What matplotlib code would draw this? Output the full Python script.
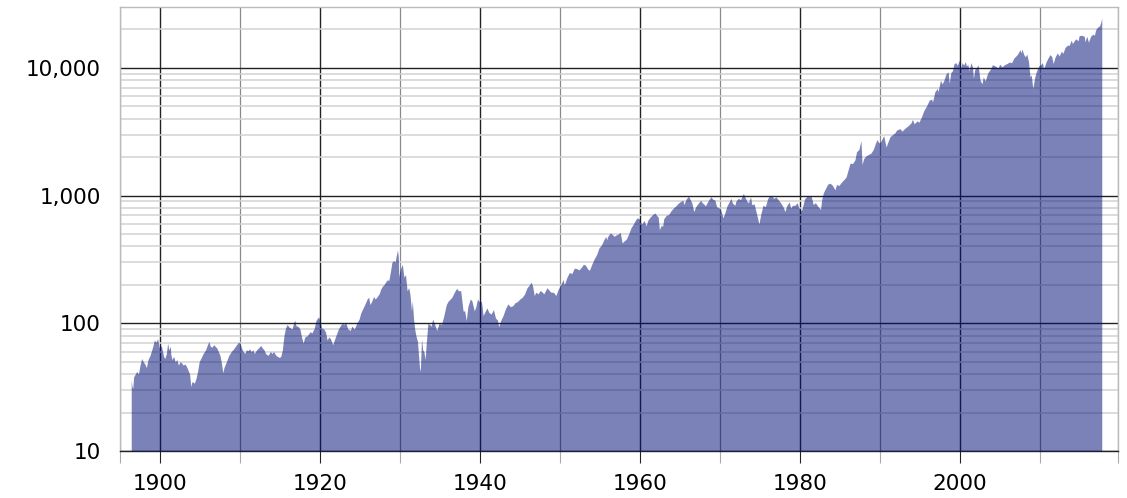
import matplotlib
matplotlib.use("Agg")
import matplotlib.pyplot as plt
from matplotlib.ticker import FixedLocator, FuncFormatter, LogLocator, NullFormatter

# Dow Jones Industrial Average (approximate)
years = [
    1896.40, 1896.50, 1896.60, 1896.70, 1896.90, 1897.10, 1897.30, 1897.50, 1897.70, 1897.90,
    1898.10, 1898.30, 1898.50, 1898.75, 1898.90, 1899.10, 1899.30, 1899.50, 1899.70, 1899.90,
    1900.00, 1900.20, 1900.45, 1900.60, 1900.80, 1900.95, 1901.10, 1901.30, 1901.35, 1901.50,
    1901.70, 1901.90, 1902.10, 1902.30, 1902.50, 1902.70, 1902.90, 1903.10, 1903.30, 1903.50,
    1903.70, 1903.85, 1904.00, 1904.30, 1904.50, 1904.70, 1904.90, 1905.10, 1905.40, 1905.70,
    1905.90, 1906.10, 1906.30, 1906.50, 1906.70, 1906.90, 1907.10, 1907.30, 1907.50, 1907.70,
    1907.85, 1908.00, 1908.30, 1908.60, 1908.90, 1909.20, 1909.50, 1909.80, 1910.00, 1910.20,
    1910.40, 1910.60, 1910.80, 1911.00, 1911.20, 1911.40, 1911.60, 1911.80, 1912.00, 1912.30,
    1912.60, 1912.80, 1913.00, 1913.20, 1913.50, 1913.80, 1914.00, 1914.20, 1914.50, 1914.90,
    1915.10, 1915.30, 1915.50, 1915.70, 1915.90, 1916.10, 1916.30, 1916.50, 1916.70, 1916.85,
    1917.00, 1917.30, 1917.50, 1917.70, 1917.90, 1918.10, 1918.40, 1918.60, 1918.80, 1919.00,
    1919.30, 1919.50, 1919.70, 1919.85, 1920.00, 1920.20, 1920.50, 1920.70, 1920.90, 1921.10,
    1921.30, 1921.60, 1921.80, 1922.00, 1922.30, 1922.60, 1922.80, 1923.00, 1923.20, 1923.50,
    1923.80, 1924.00, 1924.30, 1924.60, 1924.90, 1925.10, 1925.30, 1925.60, 1925.90, 1926.10,
    1926.25, 1926.50, 1926.70, 1926.90, 1927.10, 1927.40, 1927.60, 1927.80, 1928.00, 1928.20,
    1928.45, 1928.60, 1928.80, 1929.00, 1929.20, 1929.40, 1929.55, 1929.70, 1929.80, 1929.85,
    1929.95, 1930.10, 1930.30, 1930.50, 1930.70, 1930.90, 1931.10, 1931.25, 1931.45, 1931.55,
    1931.70, 1931.85, 1932.00, 1932.20, 1932.45, 1932.55, 1932.70, 1932.85, 1933.00, 1933.15,
    1933.30, 1933.50, 1933.70, 1933.90, 1934.10, 1934.40, 1934.60, 1934.90, 1935.20, 1935.50,
    1935.80, 1936.00, 1936.30, 1936.50, 1936.80, 1937.10, 1937.30, 1937.60, 1937.75, 1937.90,
    1938.10, 1938.30, 1938.50, 1938.80, 1939.00, 1939.30, 1939.50, 1939.70, 1939.90, 1940.20,
    1940.40, 1940.60, 1940.90, 1941.10, 1941.40, 1941.70, 1941.95, 1942.20, 1942.35, 1942.60,
    1942.90, 1943.20, 1943.50, 1943.80, 1944.10, 1944.40, 1944.70, 1945.00, 1945.30, 1945.60,
    1945.90, 1946.20, 1946.40, 1946.60, 1946.80, 1947.00, 1947.30, 1947.50, 1947.70, 1948.00,
    1948.40, 1948.70, 1948.90, 1949.20, 1949.50, 1949.80, 1950.10, 1950.40, 1950.55, 1950.90,
    1951.20, 1951.50, 1951.80, 1952.10, 1952.40, 1952.70, 1952.95, 1953.20, 1953.50, 1953.70,
    1954.00, 1954.30, 1954.60, 1954.90, 1955.20, 1955.50, 1955.75, 1955.85, 1956.00, 1956.30,
    1956.50, 1956.80, 1957.00, 1957.30, 1957.55, 1957.80, 1958.00, 1958.30, 1958.60, 1958.90,
    1959.20, 1959.50, 1959.70, 1959.90, 1960.10, 1960.30, 1960.50, 1960.80, 1961.00, 1961.30,
    1961.60, 1961.90, 1962.10, 1962.30, 1962.45, 1962.70, 1962.85, 1963.00, 1963.30, 1963.60,
    1963.90, 1964.20, 1964.50, 1964.80, 1965.10, 1965.40, 1965.50, 1965.80, 1966.10, 1966.30,
    1966.50, 1966.75, 1967.00, 1967.30, 1967.60, 1967.80, 1968.00, 1968.20, 1968.50, 1968.90,
    1969.10, 1969.40, 1969.60, 1969.90, 1970.10, 1970.40, 1970.60, 1970.90, 1971.20, 1971.40,
    1971.60, 1971.90, 1972.00, 1972.30, 1972.60, 1972.95, 1973.10, 1973.40, 1973.60, 1973.85,
    1974.00, 1974.30, 1974.60, 1974.90, 1975.10, 1975.40, 1975.70, 1976.00, 1976.25, 1976.50,
    1976.80, 1977.00, 1977.30, 1977.60, 1977.90, 1978.15, 1978.40, 1978.70, 1978.85, 1979.10,
    1979.40, 1979.70, 1979.85, 1980.20, 1980.30, 1980.60, 1980.90, 1981.20, 1981.40, 1981.70,
    1981.95, 1982.30, 1982.60, 1982.75, 1982.95, 1983.20, 1983.50, 1983.80, 1984.10, 1984.40,
    1984.60, 1984.90, 1985.20, 1985.50, 1985.80, 1986.00, 1986.30, 1986.60, 1986.90, 1987.10,
    1987.40, 1987.65, 1987.80, 1988.00, 1988.30, 1988.60, 1988.90, 1989.20, 1989.50, 1989.70,
    1989.85, 1990.00, 1990.20, 1990.50, 1990.80, 1991.00, 1991.30, 1991.60, 1991.90, 1992.10,
    1992.50, 1992.80, 1993.10, 1993.50, 1993.90, 1994.10, 1994.30, 1994.70, 1994.90, 1995.20,
    1995.50, 1995.90, 1996.20, 1996.50, 1996.60, 1996.90, 1997.20, 1997.30, 1997.60, 1997.80,
    1998.00, 1998.30, 1998.55, 1998.70, 1998.90, 1999.10, 1999.30, 1999.50, 1999.70, 1999.95,
    2000.15, 2000.30, 2000.50, 2000.70, 2000.85, 2001.00, 2001.20, 2001.40, 2001.60, 2001.72,
    2001.90, 2002.10, 2002.30, 2002.55, 2002.80, 2002.95, 2003.20, 2003.50, 2003.90, 2004.10,
    2004.50, 2004.80, 2005.00, 2005.30, 2005.60, 2005.90, 2006.20, 2006.50, 2006.80, 2007.10,
    2007.30, 2007.55, 2007.65, 2007.80, 2008.00, 2008.20, 2008.40, 2008.60, 2008.80, 2008.95,
    2009.15, 2009.40, 2009.60, 2009.90, 2010.20, 2010.35, 2010.50, 2010.80, 2011.00, 2011.30,
    2011.50, 2011.70, 2011.90, 2012.20, 2012.45, 2012.70, 2012.90, 2013.20, 2013.50, 2013.70,
    2013.95, 2014.10, 2014.50, 2014.80, 2014.95, 2015.30, 2015.60, 2015.65, 2015.90, 2016.10,
    2016.40, 2016.70, 2016.85, 2017.00, 2017.20, 2017.50, 2017.65, 2017.77,
]

dow = [
    36, 32, 31, 38, 40, 42, 40, 47, 53, 50,
    48, 45, 52, 56, 60, 66, 74, 71, 76, 64,
    68, 65, 55, 53, 58, 70, 62, 66, 57, 52,
    55, 50, 52, 47, 50, 49, 47, 48, 46, 43,
    40, 32, 35, 34, 37, 42, 50, 53, 58, 62,
    67, 72, 66, 65, 68, 66, 64, 60, 56, 48,
    41, 45, 50, 56, 60, 63, 67, 71, 70, 64,
    60, 58, 62, 61, 63, 60, 62, 58, 61, 64,
    67, 64, 62, 58, 56, 60, 58, 60, 56, 54,
    55, 62, 80, 92, 98, 94, 92, 90, 100, 106,
    96, 94, 90, 78, 70, 78, 80, 83, 86, 84,
    92, 105, 110, 112, 104, 92, 90, 85, 74, 78,
    76, 68, 74, 80, 90, 97, 100, 98, 102, 90,
    88, 95, 90, 100, 108, 120, 128, 140, 155, 160,
    140, 150, 162, 155, 160, 170, 185, 195, 200, 210,
    220, 215, 250, 300, 310, 300, 340, 375, 330, 230,
    250, 270, 290, 230, 240, 180, 190, 170, 125, 150,
    110, 90, 80, 72, 45, 42, 75, 62, 60, 52,
    70, 100, 98, 95, 108, 96, 88, 100, 98, 115,
    140, 148, 155, 160, 175, 188, 180, 180, 150, 125,
    125, 105, 135, 155, 150, 125, 135, 155, 148, 148,
    115, 122, 132, 122, 118, 128, 110, 106, 94, 105,
    115, 130, 142, 135, 137, 145, 148, 155, 160, 170,
    190, 200, 210, 195, 165, 175, 170, 180, 178, 170,
    190, 180, 175, 175, 165, 185, 200, 220, 200, 230,
    250, 245, 270, 268, 262, 275, 290, 285, 265, 260,
    290, 320, 345, 390, 410, 450, 480, 450, 480, 510,
    500, 480, 490, 500, 515, 425, 440, 455, 500, 560,
    600, 650, 670, 660, 620, 600, 640, 580, 640, 680,
    710, 730, 700, 680, 540, 590, 570, 660, 700, 710,
    760, 800, 830, 870, 900, 920, 850, 940, 990, 930,
    880, 750, 820, 870, 920, 880, 860, 830, 900, 980,
    940, 920, 820, 800, 780, 670, 720, 830, 900, 950,
    870, 840, 900, 950, 930, 1040, 990, 900, 880, 980,
    850, 860, 720, 600, 700, 840, 820, 950, 1000, 990,
    950, 980, 930, 880, 820, 750, 840, 890, 800, 840,
    840, 880, 810, 760, 790, 940, 990, 980, 1000, 850,
    880, 820, 780, 930, 1050, 1130, 1230, 1250, 1200, 1110,
    1220, 1200, 1270, 1330, 1400, 1550, 1800, 1780, 1900, 2200,
    2300, 2700, 1750, 1950, 2050, 2100, 2150, 2300, 2600, 2750,
    2600, 2600, 2700, 2950, 2400, 2600, 2900, 3000, 3100, 3250,
    3350, 3200, 3350, 3500, 3700, 3950, 3650, 3850, 3750, 4100,
    4600, 5100, 5600, 5700, 5400, 6500, 6900, 6500, 8000, 7500,
    7900, 9000, 9300, 7600, 9200, 9500, 10800, 11000, 10500, 11500,
    10000, 11000, 10500, 11200, 10300, 10700, 9500, 11000, 10200, 8300,
    9800, 10000, 10600, 8000, 7500, 8500, 7900, 9100, 9900, 10600,
    10300, 9900, 10700, 10200, 10600, 10800, 11100, 11000, 12000, 12500,
    13000, 13900, 13100, 14000, 12800, 12200, 12800, 11300, 8500, 8800,
    6900, 8500, 9400, 10400, 10700, 11000, 9800, 11100, 11800, 12700,
    12300, 10800, 12000, 13100, 12400, 13500, 13000, 14500, 15100, 15000,
    16500, 15500, 16900, 16300, 17900, 18000, 17600, 16000, 17700, 15900,
    17800, 18400, 18000, 19800, 20700, 21400, 22800, 24500,
]

x_major = [1900, 1920, 1940, 1960, 1980, 2000]
x_minor = [1910, 1930, 1950, 1970, 1990, 2010]
y_major = [10, 100, 1000, 10000]
x_range = (1895, 2019.8)
y_range = (10, 30000)

fig = plt.figure(figsize=(11.27, 4.98), dpi=100)
ax = fig.add_axes([0.1065, 0.0944, 0.8855, 0.8916])

ax.set_yscale("log")
ax.set_xlim(*x_range)
ax.set_ylim(*y_range)

ax.fill_between(years, dow, y_range[0], color=(0.004, 0.06, 0.46), alpha=0.52,
                linewidth=0, zorder=3)

# gridlines
ax.set_axisbelow(True)
ax.xaxis.set_major_locator(FixedLocator(x_major))
ax.xaxis.set_minor_locator(FixedLocator(x_minor + [x_range[0], x_range[1]]))
ax.yaxis.set_major_locator(FixedLocator(y_major))
ax.yaxis.set_minor_locator(LogLocator(base=10, subs=range(2, 10), numticks=20))
ax.yaxis.set_minor_formatter(NullFormatter())
ax.yaxis.set_major_formatter(FuncFormatter(lambda v, p: f"{int(round(v)):,}"))

ax.grid(True, which="major", axis="both", color="#222222", linewidth=1.0, zorder=1)
ax.grid(True, which="minor", axis="x", color="#8a8a8a", linewidth=0.9, zorder=1)
ax.grid(True, which="minor", axis="y", color="#d2d2d2", linewidth=1.1, zorder=0.5)

for side in ["left", "top", "right"]:
    ax.spines[side].set_color("#bbbbbb")
    ax.spines[side].set_linewidth(1.0)
ax.spines["bottom"].set_color("#222222")
ax.spines["bottom"].set_linewidth(1.0)

ax.tick_params(axis="x", which="major", length=8.5, width=0.8, color="#222222",
               direction="out", pad=8, labelsize=15.5)
ax.tick_params(axis="x", which="minor", length=8.5, width=0.8, color="#aaaaaa",
               direction="out")
ax.tick_params(axis="y", which="both", length=0, pad=14, labelsize=15.5)

fig.savefig("out.png", dpi=100)
